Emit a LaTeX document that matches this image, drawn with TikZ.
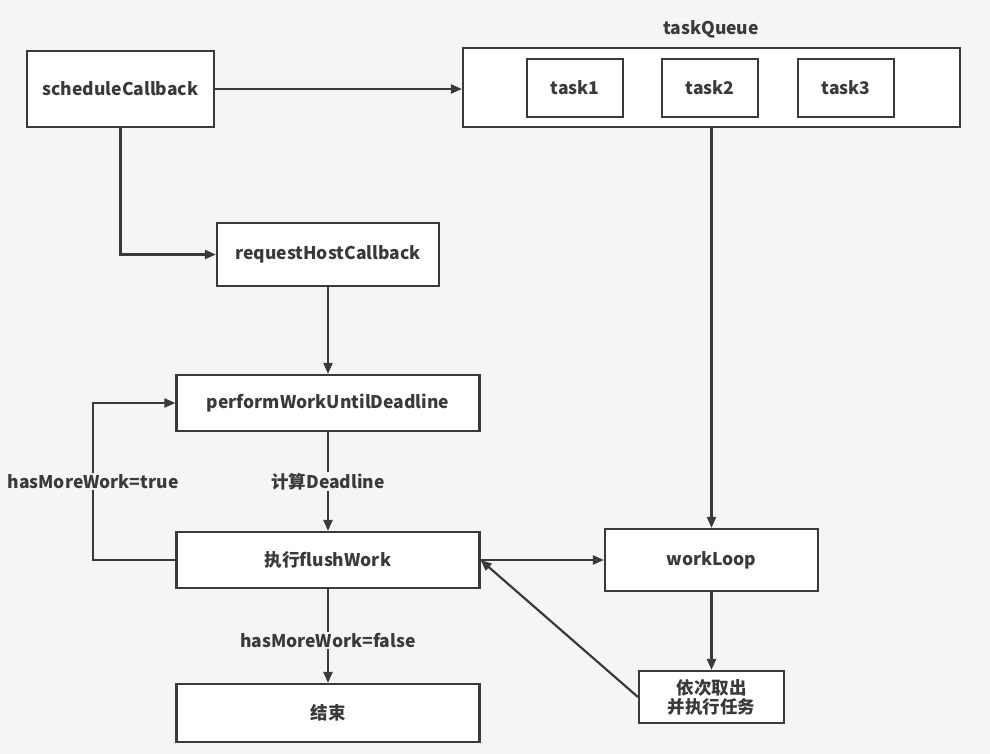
\documentclass[tikz,border=0pt]{standalone}
\usepackage{fontspec}
\setmainfont{Noto Sans CJK SC}
\usetikzlibrary{arrows.meta}
\definecolor{bg}{HTML}{F5F5F5}
\definecolor{ink}{HTML}{3A3A3A}
\begin{document}
\begin{tikzpicture}[x=1pt,y=-1pt,
  box/.style={draw=ink,fill=white,line width=2.2pt,inner sep=0pt,
    font=\fontsize{17.5}{20}\selectfont\bfseries,text=ink,align=center},
  conn/.style={draw=ink,line width=2.2pt,-{Triangle[length=11pt,width=9pt]}},
  lbl/.style={fill=bg,inner sep=1pt,font=\fontsize{17.5}{20}\selectfont\bfseries,text=ink}]
\fill[bg] (0,0) rectangle (990,754);
\useasboundingbox (0,0) rectangle (990,754);

\node[box,minimum width=187pt,minimum height=76pt] (sc) at (120.5,89) {scheduleCallback};
\node[box,minimum width=497pt,minimum height=79pt] (tq) at (711.5,87.5) {};
\node[font=\fontsize{17.5}{20}\selectfont\bfseries,text=ink] (tql) at (711,29) {taskQueue};
\node[box,minimum width=96pt,minimum height=58pt] (t1) at (575,88) {task1};
\node[box,minimum width=96pt,minimum height=58pt] (t2) at (710,88) {task2};
\node[box,minimum width=96pt,minimum height=58pt] (t3) at (846,88) {task3};
\node[box,minimum width=222pt,minimum height=63pt] (rh) at (328,254.5) {requestHostCallback};
\node[box,minimum width=303pt,minimum height=56pt] (pw) at (328,403) {performWorkUntilDeadline};
\node[box,minimum width=303pt,minimum height=56pt] (fw) at (328,560) {执行flushWork};
\node[box,minimum width=303pt,minimum height=58pt] (ed) at (328,713) {结束};
\node[box,minimum width=213pt,minimum height=62pt] (wl) at (711.5,560) {workLoop};
\node[box,minimum width=145pt,minimum height=52pt,font=\fontsize{17.5}{19}\selectfont\bfseries] (tk) at (711.5,697) {依次取出\\并执行任务};

\coordinate (loopx) at (93,0);

\draw[conn] (sc.east) -- (sc.east -| tq.west);
\draw[conn] (sc.south) |- (rh.west);
\draw[conn] (rh.south) -- (rh.south |- pw.north);
\draw[conn] (pw.south) -- node[lbl] {计算Deadline} (pw.south |- fw.north);
\draw[conn] (fw.west) -- (fw.west -| loopx) |- node[lbl,pos=0.25] {hasMoreWork=true} (pw.west);
\draw[conn] (fw.south) -- node[lbl,pos=0.55] {hasMoreWork=false} (fw.south |- ed.north);
\draw[conn] (tq.south -| wl.north) -- (wl.north);
\draw[conn] (fw.east) -- (wl.west);
\draw[conn] (wl.south) -- (tk.north);
\draw[conn] (tk.west) -- (fw.east);
\end{tikzpicture}
\end{document}
